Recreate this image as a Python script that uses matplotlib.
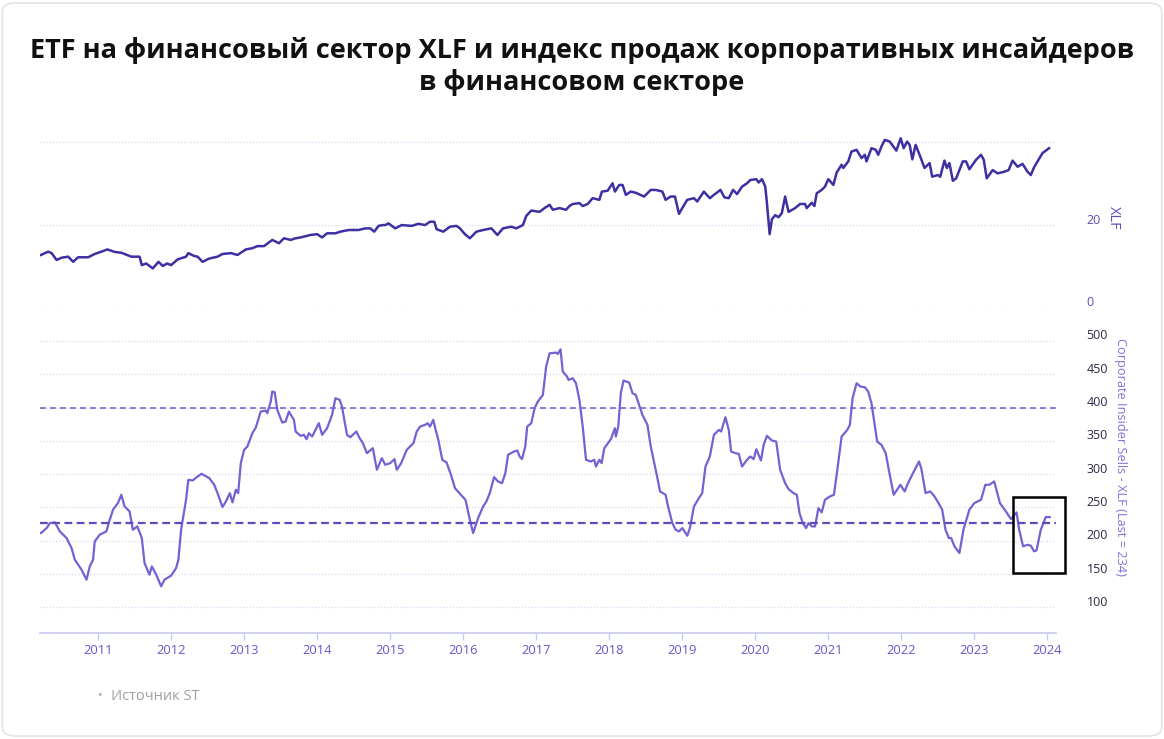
import matplotlib.pyplot as plt
from matplotlib.patches import Rectangle, FancyBboxPatch
from matplotlib.transforms import ScaledTranslation

plt.rcParams['font.family'] = ['Open Sans', 'DejaVu Sans']

# XLF price (dates as decimal years)
xlf_dates = [2010.218, 2010.318, 2010.364, 2010.432, 2010.501, 2010.591, 2010.659, 2010.727, 2010.864, 2010.955,
             2011.046, 2011.128, 2011.228, 2011.319, 2011.456, 2011.569, 2011.600, 2011.660, 2011.750, 2011.828,
             2011.887, 2011.947, 2012.001, 2012.091, 2012.206, 2012.237, 2012.319, 2012.364, 2012.432, 2012.524,
             2012.637, 2012.705, 2012.820, 2012.910, 2013.025, 2013.115, 2013.183, 2013.274, 2013.387, 2013.479,
             2013.547, 2013.638, 2013.707, 2013.775, 2013.911, 2014.001, 2014.070, 2014.138, 2014.252, 2014.321,
             2014.434, 2014.570, 2014.662, 2014.730, 2014.784, 2014.843, 2014.902,
             2014.935, 2014.980, 2015.071, 2015.161, 2015.297, 2015.389, 2015.480, 2015.548, 2015.607, 2015.638,
             2015.730, 2015.821, 2015.911, 2015.958, 2016.026, 2016.094, 2016.184, 2016.276, 2016.389, 2016.471,
             2016.548, 2016.662, 2016.730, 2016.821, 2016.866, 2016.935, 2017.049, 2017.117, 2017.186, 2017.231,
             2017.322, 2017.412, 2017.458, 2017.503, 2017.595, 2017.640, 2017.708, 2017.776, 2017.868, 2017.903,
             2017.981, 2018.049, 2018.081, 2018.141, 2018.186, 2018.231, 2018.299, 2018.367, 2018.482, 2018.572,
             2018.640, 2018.731, 2018.776, 2018.844, 2018.904, 2018.959, 2019.004, 2019.072, 2019.164, 2019.209,
             2019.300, 2019.382, 2019.437, 2019.527, 2019.581, 2019.641, 2019.700, 2019.754, 2019.823, 2019.891,
             2019.936, 2020.018, 2020.051, 2020.096, 2020.141, 2020.164, 2020.201, 2020.232, 2020.277, 2020.323,
             2020.368, 2020.413, 2020.460, 2020.550, 2020.618, 2020.686, 2020.709, 2020.778, 2020.814, 2020.846,
             2020.914, 2020.959, 2021.005, 2021.074, 2021.119, 2021.187, 2021.210, 2021.278, 2021.323, 2021.392,
             2021.460, 2021.505, 2021.528, 2021.596, 2021.655, 2021.688, 2021.733, 2021.778, 2021.846, 2021.937,
             2021.996, 2022.037, 2022.083, 2022.119, 2022.156, 2022.201, 2022.255, 2022.323, 2022.392, 2022.428,
             2022.506, 2022.538, 2022.596, 2022.629, 2022.664, 2022.711, 2022.756, 2022.847, 2022.892, 2022.937,
             2023.029, 2023.097, 2023.134, 2023.175, 2023.256, 2023.325, 2023.415, 2023.475, 2023.529, 2023.598,
             2023.666, 2023.734, 2023.779, 2023.824, 2023.871, 2023.939, 2024.029]
xlf_values = [12.76, 13.56, 13.2, 11.55, 12.1, 12.35, 11.1, 12.2, 12.2, 13.0,
              13.56, 14.1, 13.5, 13.3, 12.35, 12.35, 10.3, 10.7, 9.5, 11.1,
              10.1, 10.7, 10.3, 11.7, 12.35, 13.2, 12.5, 12.35, 11.1, 11.9,
              12.35, 13.0, 13.2, 12.76, 14.1, 14.4, 14.9, 14.9, 16.4, 15.6,
              16.8, 16.4, 16.8, 17.0, 17.6, 17.8, 17.0, 18.0, 18.0, 18.4,
              18.8, 18.8, 19.2, 19.2, 18.4, 19.8, 20.0,
              20.0, 20.4, 19.2, 20.0, 19.8, 20.3, 20.0, 20.8, 20.8, 19.0,
              18.4, 19.6, 19.8, 19.2, 17.8, 16.8, 18.4, 18.8, 19.2, 17.6,
              19.2, 19.6, 19.2, 20.0, 22.2, 23.5, 23.2, 24.1, 24.9, 23.7,
              24.1, 23.7, 24.6, 25.1, 25.3, 24.6, 25.1, 26.5, 26.1, 28.1,
              28.3, 30.1, 28.1, 29.7, 29.7, 27.3, 28.1, 27.8, 26.9, 28.5,
              28.5, 28.1, 26.1, 26.9, 26.9, 22.7, 24.1, 26.1, 26.5, 25.7,
              28.1, 26.5, 27.3, 28.5, 26.7, 26.5, 28.5, 27.5, 29.3, 30.1,
              30.9, 31.1, 30.3, 31.1, 29.3, 25.3, 17.8, 21.4, 22.4, 21.9,
              22.9, 26.9, 23.2, 24.1, 25.1, 25.1, 24.1, 25.4, 24.6, 27.7,
              28.5, 29.3, 31.1, 29.7, 32.7, 34.6, 33.8, 35.4, 37.8, 38.2,
              36.2, 37.0, 35.4, 38.6, 38.2, 37.0, 39.0, 40.6, 40.2, 38.0,
              41.0, 38.6, 40.2, 39.4, 35.9, 39.4, 37.0, 33.8, 35.0, 31.7,
              32.1, 31.7, 35.6, 33.8, 35.0, 30.7, 31.3, 35.4, 35.4, 33.5,
              35.8, 37.0, 35.8, 31.3, 33.3, 32.5, 32.9, 33.3, 35.6, 34.1,
              34.8, 32.9, 32.1, 34.0, 35.4, 37.4, 38.6]

# Corporate insider sells index
ins_dates = [2010.218, 2010.296, 2010.341, 2010.409, 2010.477, 2010.569, 2010.637, 2010.682, 2010.774, 2010.842,
             2010.887, 2010.932, 2010.955, 2011.023, 2011.115, 2011.146, 2011.205, 2011.273, 2011.319, 2011.364,
             2011.432, 2011.477, 2011.538, 2011.600, 2011.637, 2011.705, 2011.737, 2011.797, 2011.865, 2011.910,
             2012.001, 2012.070, 2012.101, 2012.138, 2012.206, 2012.237, 2012.296, 2012.364, 2012.419, 2012.524,
             2012.592, 2012.637, 2012.705, 2012.752, 2012.806, 2012.842, 2012.888, 2012.920, 2012.956, 2013.001,
             2013.046, 2013.115, 2013.161, 2013.229, 2013.297, 2013.319, 2013.366, 2013.387, 2013.420, 2013.456,
             2013.524, 2013.570, 2013.615, 2013.684, 2013.707, 2013.775, 2013.820, 2013.857, 2013.888, 2013.933,
             2014.001, 2014.025, 2014.070, 2014.138, 2014.206, 2014.252, 2014.311, 2014.342, 2014.411, 2014.457,
             2014.539, 2014.584, 2014.629, 2014.683, 2014.765, 2014.820, 2014.888, 2014.935, 2015.003, 2015.061,
             2015.093, 2015.153, 2015.229, 2015.276, 2015.321, 2015.366, 2015.412, 2015.480, 2015.516, 2015.548,
             2015.593, 2015.625, 2015.662, 2015.716, 2015.775, 2015.835, 2015.890, 2015.971, 2016.034, 2016.094,
             2016.139, 2016.207, 2016.276, 2016.321, 2016.367, 2016.426, 2016.480, 2016.535, 2016.580, 2016.617,
             2016.699, 2016.744, 2016.776, 2016.808, 2016.853, 2016.880, 2016.935, 2016.981, 2017.026, 2017.094,
             2017.139, 2017.186, 2017.276, 2017.299, 2017.336, 2017.367, 2017.426, 2017.445, 2017.503, 2017.548,
             2017.595, 2017.640, 2017.685, 2017.753, 2017.799, 2017.821, 2017.868, 2017.899, 2017.936, 2018.026,
             2018.081, 2018.094, 2018.127, 2018.162, 2018.199, 2018.277, 2018.322, 2018.367, 2018.413, 2018.458,
             2018.527, 2018.572, 2018.640, 2018.700, 2018.776, 2018.809, 2018.868, 2018.913, 2018.959, 2019.004,
             2019.072, 2019.109, 2019.164, 2019.232, 2019.277, 2019.322, 2019.382, 2019.437, 2019.505, 2019.536,
             2019.595, 2019.641, 2019.673, 2019.731, 2019.778, 2019.823, 2019.891, 2019.936, 2019.982, 2020.018,
             2020.082, 2020.119, 2020.164, 2020.232, 2020.291, 2020.345, 2020.413, 2020.460, 2020.528, 2020.573,
             2020.610, 2020.655, 2020.700, 2020.733, 2020.778, 2020.823, 2020.869, 2020.914, 2020.959, 2021.027,
             2021.082, 2021.128, 2021.187, 2021.265, 2021.300, 2021.337, 2021.392, 2021.446, 2021.505, 2021.551,
             2021.596, 2021.674, 2021.733, 2021.791, 2021.838, 2021.900, 2021.961, 2021.992, 2022.051, 2022.097,
             2022.165, 2022.247, 2022.278, 2022.337, 2022.401, 2022.460, 2022.528, 2022.565, 2022.610, 2022.656,
             2022.688, 2022.733, 2022.801, 2022.856, 2022.937, 2023.005, 2023.052, 2023.097, 2023.156, 2023.210,
             2023.278, 2023.356, 2023.438, 2023.506, 2023.584, 2023.619, 2023.674, 2023.734, 2023.779, 2023.824,
             2023.857, 2023.916, 2023.984, 2024.038]
ins_values = [211.5, 219, 226.5, 227.5, 214, 204, 189, 171.5, 156.5, 141.5,
              161.5, 171.5, 199, 209, 214, 226.5, 246.5, 256.5, 269, 251.5,
              244, 216.5, 221.5, 204, 166.5, 149, 161.5, 149, 131.5, 141.5,
              147.5, 159, 171.5, 216.5, 261.5, 291.5, 290.5, 296.5, 300.5, 294,
              284, 271.5, 250.5, 259, 271.5, 257.5, 276.5, 271.5, 316.5, 336.5,
              341.5, 361.5, 370, 394, 395.5, 391.5, 409, 424, 423, 396.5,
              377.5, 379, 394, 381.5, 364, 357.5, 359, 352.5, 361.5, 356.5,
              371.5, 376.5, 359, 369, 389, 414, 411.5, 401.5, 359, 355.5,
              364, 354, 346.5, 331.5, 339, 306.5, 324, 314, 316.5, 322.5,
              306.5, 316.5, 336.5, 341.5, 346.5, 364, 371.5, 374, 376.5, 371.5,
              381.5, 366.5, 351.5, 321.5, 317.5, 299, 279, 269, 261.5, 231.5,
              211.5, 234, 251.5, 259, 271.5, 295.5, 289, 286.5, 301.5, 329,
              334, 335.5, 326.5, 322.5, 341.5, 371.5, 376.5, 399, 409, 419,
              461.5, 481.5, 482.5, 480.5, 487.5, 454, 446.5, 441.5, 444, 436.5,
              411.5, 371.5, 321.5, 319, 321.5, 311.5, 321.5, 316.5, 339, 352.5,
              369, 356.5, 371.5, 421.5, 440.5, 437.5, 421.5, 419, 404, 389,
              374, 341.5, 306.5, 274, 269, 251.5, 226.5, 216.5, 214, 219,
              207.5, 219, 251.5, 264, 271.5, 311.5, 326.5, 359, 366.5, 364,
              385.5, 366.5, 334, 331.5, 330.5, 311.5, 321.5, 326.5, 322.5, 337.5,
              320.5, 344, 357.5, 350.5, 349, 306.5, 286.5, 277.5, 271.5, 269,
              241.5, 226.5, 219, 226.5, 221.5, 221.5, 249, 242.5, 261.5, 266.5,
              269, 306.5, 356.5, 366.5, 374, 414, 436.5, 431.5, 430.5, 424,
              406.5, 349, 344, 331.5, 304, 269, 279, 284, 274, 286.5,
              301.5, 319, 309, 271.5, 274, 266.5, 254, 246.5, 216.5, 204,
              204, 191.5, 181.5, 216.5, 246.5, 256.5, 259, 261.5, 284, 284,
              289, 256.5, 244, 232.5, 242.5, 216.5, 191.5, 194, 192.5, 184,
              185.5, 216.5, 235.5, 235.5]

upper_band = 400
lower_band = 226
years = list(range(2011, 2025))
ins_ticks = [100, 150, 200, 250, 300, 350, 400, 450, 500]
# highlighted area (years, index values)
box_x = (2023.533, 2024.243)
box_y = (151.7, 265.8)

W, H = 1164, 739
fig = plt.figure(figsize=(W / 100, H / 100), dpi=100)
fig.patches.append(FancyBboxPatch((0.002, 0.004), 0.996, 0.992,
                                  boxstyle="round,pad=0,rounding_size=0.012",
                                  transform=fig.transFigure, fc='white', ec='#e3e3e3', lw=1.2,
                                  zorder=-10))

left = 40 / W
width = (1056 - 40) / W
ax1 = fig.add_axes([left, 1 - 307.7 / H, width, 177.7 / H])
ax2 = fig.add_axes([left, 1 - 633 / H, width, 313 / H])
for ax in (ax1, ax2):
    ax.set_facecolor('none')
    ax.set_xlim(2010.205, 2024.124)
    for s in ax.spines.values():
        s.set_visible(False)
    ax.yaxis.tick_right()
    ax.grid(axis='y', color='#d9d9f5', linestyle=(0, (1, 1.5)), linewidth=0.9)
    ax.set_axisbelow(True)

off = ScaledTranslation(0, 0.065, fig.dpi_scale_trans)

# upper panel
ax1.plot(xlf_dates, xlf_values, color='#3d30a2', linewidth=1.8, solid_joinstyle='round')
ax1.set_ylim(0, 43)
ax1.set_yticks([0, 20, 40])
ax1.set_yticklabels(['0', '20', ''])
ax1.set_xticks([])
ax1.tick_params(axis='y', length=0, pad=22, labelsize=9, labelcolor='#5a50b5')
for lab in ax1.get_yticklabels():
    lab.set_transform(lab.get_transform() + off)

# lower panel
ax2.plot(ins_dates, ins_values, color='#7262d3', linewidth=1.6, solid_joinstyle='round')
ax2.axhline(upper_band, color='#7466d0', linestyle=(0, (3.5, 2.5)), linewidth=1.2)
ax2.axhline(lower_band, color='#5c4dbf', linestyle=(0, (3.5, 2)), linewidth=1.6)
ax2.set_ylim(61.4, 531.5)
ax2.set_yticks(ins_ticks)
ax2.set_xticks(years)
ax2.set_xticklabels([str(y) for y in years])
ax2.spines['bottom'].set_visible(True)
ax2.spines['bottom'].set_color('#ccccf2')
ax2.spines['bottom'].set_linewidth(1.3)
ax2.tick_params(axis='y', length=0, pad=22, labelsize=9, labelcolor='#2b2b45')
ax2.tick_params(axis='x', length=5, width=1, color='#ccccf2', pad=3, labelsize=9.3, labelcolor='#6658cc')
for lab in ax2.get_yticklabels():
    lab.set_transform(lab.get_transform() + off)

ax2.add_patch(Rectangle((box_x[0], box_y[0]), box_x[1] - box_x[0], box_y[1] - box_y[0],
                        fill=False, edgecolor='black', linewidth=1.8, clip_on=False, zorder=5))

# axis titles
fig.text(1113 / W, 1 - 218 / H, 'XLF', rotation=270, ha='center', va='center',
         fontsize=10.5, color='#5a4fc0')
fig.text(1120 / W, 1 - 457 / H, 'Corporate Insider Sells - XLF (Last = 234)', rotation=270,
         ha='center', va='center', fontsize=9.2, color='#8072de')

# title
fig.text(0.5, 1 - 50 / H, 'ETF на финансовый сектор XLF и индекс продаж корпоративных инсайдеров',
         ha='center', va='center', fontsize=19.5, fontweight='bold', color='#111111')
fig.text(0.5, 1 - 82 / H, 'в финансовом секторе',
         ha='center', va='center', fontsize=19.5, fontweight='bold', color='#111111')

# source
fig.text(100 / W, 1 - 696 / H, '•', ha='center', va='center', fontsize=9, color='#aaaaaa')
fig.text(111 / W, 1 - 696 / H, 'Источник ST', ha='left', va='center', fontsize=10.5, color='#a0a0a0')

fig.savefig('out.png', dpi=100)
